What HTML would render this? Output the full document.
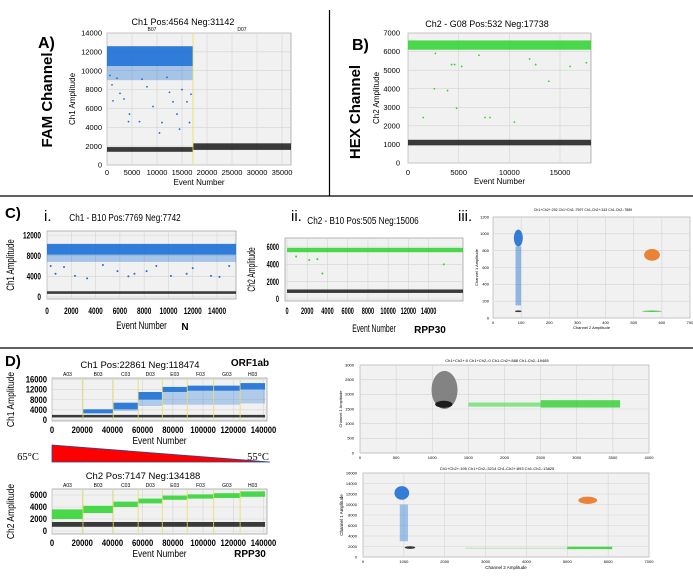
<!DOCTYPE html>
<html><head><meta charset="utf-8">
<style>
html,body{margin:0;padding:0;background:#fff;}
svg{display:block;font-family:"Liberation Sans",sans-serif;}
</style></head>
<body>
<svg id="fig" width="693" height="581" viewBox="0 0 693 581" xmlns="http://www.w3.org/2000/svg">
<line x1="0" y1="196" x2="693" y2="196" stroke="#000" stroke-width="1.2"/>
<line x1="0" y1="348" x2="693" y2="348" stroke="#000" stroke-width="1.2"/>
<line x1="329.5" y1="10" x2="329.5" y2="196" stroke="#000" stroke-width="1.2"/>
<text x="38" y="48" font-size="16" font-weight="bold">A)</text>
<text x="52" y="100" font-size="15" font-weight="bold" transform="rotate(-90 52 100)" text-anchor="middle">FAM Channel</text>
<text x="352" y="50" font-size="16" font-weight="bold">B)</text>
<text x="360" y="112" font-size="15" font-weight="bold" transform="rotate(-90 360 112)" text-anchor="middle">HEX Channel</text>
<text x="5" y="218" font-size="15" font-weight="bold">C)</text>
<text x="44" y="221" font-size="15">i.</text>
<text x="291" y="221" font-size="15">ii.</text>
<text x="458" y="221" font-size="15">iii.</text>
<text x="5" y="366" font-size="15" font-weight="bold">D)</text>
<text x="183" y="25" font-size="9" text-anchor="middle">Ch1 Pos:4564 Neg:31142</text>
<text x="487" y="27" font-size="9" text-anchor="middle">Ch2 - G08 Pos:532 Neg:17738</text>
<text x="0" y="0" font-size="10.5" text-anchor="middle" transform="translate(125 221) scale(0.78 1)">Ch1 - B10 Pos:7769 Neg:7742</text>
<text x="0" y="0" font-size="10.5" text-anchor="middle" transform="translate(363 224) scale(0.78 1)">Ch2 - B10 Pos:505 Neg:15006</text>
<text x="583" y="211" font-size="3.5" text-anchor="middle">Ch1+Ch2+:292 Ch1+Ch2-:7597 Ch1-Ch2+:343 Ch1-Ch2-:7889</text>
<text x="140" y="368" font-size="9.5" text-anchor="middle">Ch1 Pos:22861 Neg:118474</text>
<text x="143" y="479" font-size="9.5" text-anchor="middle">Ch2 Pos:7147 Neg:134188</text>
<text x="497" y="362" font-size="4" text-anchor="middle">Ch1+Ch2+:0  Ch1+Ch2-:0  Ch1-Ch2+:888  Ch1-Ch2-:19485</text>
<text x="497" y="470" font-size="4" text-anchor="middle">Ch1+Ch2+:195  Ch1+Ch2-:3214  Ch1-Ch2+:893  Ch1-Ch2-:13825</text>
<text x="138" y="162" font-size="11" font-weight="bold" text-anchor="middle">RBD2</text>
<text x="240" y="162" font-size="11" font-weight="bold" text-anchor="middle">NTC</text>
<text x="487" y="160" font-size="11" font-weight="bold" text-anchor="middle">RPP30</text>
<text x="185" y="330" font-size="10" font-weight="bold" text-anchor="middle">N</text>
<text x="430" y="333" font-size="10" font-weight="bold" text-anchor="middle">RPP30</text>
<text x="500" y="245" font-size="10" font-weight="bold" text-anchor="middle">N</text>
<text x="646" y="237" font-size="10" font-weight="bold" text-anchor="middle">N+RPP30</text>
<text x="636" y="317" font-size="10" font-weight="bold" text-anchor="middle">RPP30</text>
<text x="250" y="366" font-size="10" font-weight="bold" text-anchor="middle">ORF1ab</text>
<text x="250" y="557" font-size="10" font-weight="bold" text-anchor="middle">RPP30</text>
<text x="482" y="427" font-size="11" font-family="Liberation Serif,serif" font-weight="bold" text-anchor="middle">65°C</text>
<text x="482" y="524" font-size="11" font-family="Liberation Serif,serif" font-weight="bold" text-anchor="middle">57°C</text>
<polygon points="52,445 270,462 52,462" fill="#ff0000" stroke="#2a4a8a" stroke-width="0.8"/>
<text x="28" y="460" font-size="10.5" font-family="Liberation Serif,serif" text-anchor="middle">65°C</text>
<text x="258" y="460" font-size="10.5" font-family="Liberation Serif,serif" text-anchor="middle">55°C</text>
<g id="plots"></g>
</svg>
<script>
// ---------- DATA ----------
const aSegments = [0, 17200, 36800];
const aPosBand = [[0, 17200, 10500, 12600]];
const aPosFringe = [[0, 17200, 9000, 10500]];
const aNegBand = [[0, 17200, 1400, 1900], [17200, 36800, 1600, 2300]];
const aOutliers = [[600,9500],[1000,8500],[1200,6800],[2000,9200],[2600,7600],[3400,7000],[4300,4600],[4500,5400],[6500,4600],[7000,9100],[8000,8300],[9200,6200],[10500,3400],[11000,4500],[12000,9300],[12500,7700],[13200,6700],[14000,5400],[14500,3800],[15000,8000],[16000,6700],[16500,4500],[16800,7500]];
const bPosBand = [[0, 18060, 6100, 6600]];
const bNegBand = [[0, 18060, 950, 1250]];
const bOutliers = [[1500,2450],[2600,4000],[3900,3900],[4800,2950],[4600,5300],[5300,5200],[4300,5300],[7600,2450],[8100,2450],[10500,2200],[12000,5600],[12600,5300],[13900,4400],[16000,5200],[17600,5400],[2700,5900],[7000,5800]];
const ciPosBand = [[0, 15560, 8200, 10300]];
const ciPosFringe = [[0, 15560, 6800, 8200]];
const ciNegBand = [[0, 15560, 600, 1100]];
const ciOutliers = [[300,6000],[700,4500],[1400,5800],[2300,4100],[3300,3600],[4600,6200],[5800,5000],[6700,4000],[7200,4500],[8200,5000],[9000,6000],[10200,4100],[11500,4500],[12000,5600],[13500,4100],[14200,3900],[15000,6000]];
const ciiPosBand = [[0, 17400, 5400, 5900]];
const ciiNegBand = [[0, 17400, 700, 1100]];
const ciiOutliers = [[900,4900],[2200,4500],[3000,4600],[3500,2950],[15500,4000]];
const ciiiClusters = [[90,950,16,100,'#1f6fd1'],[565,750,28,70,'#e87722'],[565,80,35,9,'#33cc33'],[90,80,12,10,'#222']];
const ciiiTail = [[80,100,150,850,'#1f6fd1']];
const dRegions = ['A03','B03','C03','D03','E03','F03','G03','H03'];
const dBounds = [0,20500,40500,57000,73000,89500,107000,124500,141000];
const dCh1Lo = [null,2600,4200,8000,11000,11500,11500,12000];
const dCh1Hi = [null,4200,6800,11000,13000,13500,13500,14500];
const dCh1FringeLo = [null,null,3500,5500,6000,6000,6000,6500];
const dCh2Lo = [2000,3000,4000,4600,5200,5400,5500,5700];
const dCh2Hi = [3600,4200,4900,5400,5900,6100,6300,6600];
const d65Clusters = [[1170,2150,180,650,'#777'],[1160,1660,120,120,'#111']];
const d65Band = [[2500,3600,1550,1800,'#22cc22'],[1500,2500,1580,1720,'#66dd66']];
const d57Clusters = [[950,12200,180,1300,'#1f6fd1'],[1150,1800,130,250,'#222'],[5500,10800,230,700,'#e87722']];
const d57Tail = [[900,1100,3000,10000,'#4a8fe0']];
const d57Band = [[5000,6100,1500,1950,'#22cc22'],[2500,5000,1600,1750,'#99dd99']];

// ---------- DRAWING ----------
const NS='http://www.w3.org/2000/svg';
const root=document.getElementById('plots');
function el(tag,attrs,parent){const e=document.createElementNS(NS,tag);for(const k in attrs)e.setAttribute(k,attrs[k]);(parent||root).appendChild(e);return e;}
function txt(x,y,s,fs,anchor,parent,extra,sq,rot){
  const a=Object.assign({'font-size':fs,'text-anchor':anchor||'middle'},extra||{});
  let tr='translate('+x+' '+y+')';
  if(rot)tr+=' rotate(-90)';
  if(sq&&sq!==1)tr+=' scale('+sq+' 1)';
  a.x=0;a.y=0;a.transform=tr;
  const t=el('text',a,parent);t.textContent=s;return t;}

function makePlot(name,o){
  const g=el('g',{});
  
  
  const sq=o.sq||1;
  const sx=v=>o.x+(v-o.xmin)/(o.xmax-o.xmin)*o.w;
  const sy=v=>o.y+o.h-(v-o.ymin)/(o.ymax-o.ymin)*o.h;
  const bg=el('rect',{x:o.x,y:o.y,width:o.w,height:o.h,fill:o.bg||'#f1f1f1',stroke:'#888','stroke-width':0.6},g);
  
  
  o.xticks.forEach(v=>{
    el('line',{x1:sx(v),x2:sx(v),y1:o.y,y2:o.y+o.h,stroke:'#d4d4d4','stroke-width':0.6},g);
    const t=txt(sx(v),o.y+o.h+o.xlo,String(v),o.tfs,'middle',g,o.tickExtra,sq);
    
    
  });
  o.yticks.forEach(v=>{
    el('line',{x1:o.x,x2:o.x+o.w,y1:sy(v),y2:sy(v),stroke:'#d4d4d4','stroke-width':0.6},g);
    const t=txt(o.x-o.ylo,sy(v)+o.tfs*0.35,String(v),o.tfs,'end',g,o.tickExtra,sq);
    
    
  });
  if(o.xlabel){const t=txt(o.x+o.w/2,o.y+o.h+o.xlabOff,o.xlabel,o.lfs,'middle',g,o.labExtra,sq);
    
    }
  if(o.ylabel){const t=txt(o.x-o.ylabOff,o.y+o.h/2,o.ylabel,o.lfs,'middle',g,o.labExtra,sq,true);
    
    }
  const clip='clip-'+name;
  const cp=el('clipPath',{id:clip},g);el('rect',{x:o.x,y:o.y,width:o.w,height:o.h},cp);
  const data=el('g',{'clip-path':'url(#'+clip+')'},g);
  return {g,sx,sy,data};
}
function bands(p,arr,color,op,name){
  arr.forEach(b=>{
    const r=el('rect',{x:p.sx(b[0]),width:p.sx(b[1])-p.sx(b[0]),y:p.sy(b[3]),height:p.sy(b[2])-p.sy(b[3]),fill:color,opacity:op},p.data);
    
    
  });
}
function points(p,arr,color,name,r){
  arr.forEach(d=>{
    const c=el('circle',{cx:p.sx(d[0]),cy:p.sy(d[1]),r:r||0.9,fill:color},p.data);
    
    
  });
}
function clusters(p,arr,name){
  arr.forEach(c=>{
    const e=el('ellipse',{cx:p.sx(c[0]),cy:p.sy(c[1]),rx:Math.abs(p.sx(c[0]+c[2])-p.sx(c[0])),ry:Math.abs(p.sy(c[1]+c[3])-p.sy(c[1])),fill:c[4],opacity:0.9},p.data);
    
    
  });
}
function rects2d(p,arr,op,name){
  arr.forEach(b=>{
    const r=el('rect',{x:p.sx(b[0]),width:p.sx(b[1])-p.sx(b[0]),y:p.sy(b[3]),height:p.sy(b[2])-p.sy(b[3]),fill:b[4],opacity:op},p.data);
    
    
  });
}
function range(a,b,s){const r=[];for(let v=a;v<=b;v+=s)r.push(v);return r;}
const BLUE='#1a6fd6',GREEN='#2bd42b',BLACK='#1a1a1a';

(function(){
  const p=makePlot('plot-a',{x:107,y:33,w:184,h:132,xmin:0,xmax:36800,ymin:0,ymax:14000,xticks:range(0,35000,5000),yticks:range(0,14000,2000),tfs:7.5,xlo:10,ylo:5,xlabel:'Event Number',ylabel:'Ch1 Amplitude',lfs:8,xlabOff:20,ylabOff:32});
  bands(p,aPosFringe,BLUE,0.35,'positive-droplets-fringe');
  bands(p,aPosBand,BLUE,0.9,'positive-droplets');
  bands(p,aNegBand,BLACK,0.85,'negative-droplets');
  points(p,aOutliers,BLUE,'outlier-droplet');
  el('line',{x1:p.sx(aSegments[1]),x2:p.sx(aSegments[1]),y1:33,y2:165,stroke:'#e8e060','stroke-width':0.8},p.data);
  txt(152,31,'B07',5,'middle',p.g);txt(242,31,'D07',5,'middle',p.g);
})();
(function(){
  const p=makePlot('plot-b',{x:408,y:33,w:183,h:130,xmin:0,xmax:18060,ymin:0,ymax:7000,xticks:[0,5000,10000,15000],yticks:range(0,7000,1000),tfs:7.5,xlo:12,ylo:8,xlabel:'Event Number',ylabel:'Ch2 Amplitude',lfs:8,xlabOff:21,ylabOff:29});
  bands(p,bPosBand,GREEN,0.85,'positive-droplets');
  bands(p,bNegBand,BLACK,0.85,'negative-droplets');
  points(p,bOutliers,GREEN,'outlier-droplet');
})();
(function(){
  const p=makePlot('plot-c-i',{x:47,y:231,w:189,h:68,xmin:0,xmax:15560,ymin:-400,ymax:12800,xticks:range(0,14000,2000),yticks:[0,4000,8000,12000],tfs:9,sq:0.72,xlo:15,ylo:6,xlabel:'Event Number',ylabel:'Ch1  Amplitude',lfs:11,xlabOff:30,ylabOff:33,tickExtra:{'font-weight':'bold'}});
  bands(p,ciPosFringe,BLUE,0.35,'positive-droplets-fringe');
  bands(p,ciPosBand,BLUE,0.9,'positive-droplets');
  bands(p,ciNegBand,BLACK,0.85,'negative-droplets');
  points(p,ciOutliers,BLUE,'outlier-droplet',1);
})();
(function(){
  const p=makePlot('plot-c-ii',{x:285,y:238,w:178,h:63,xmin:-200,xmax:17400,ymin:-230,ymax:7040,xticks:range(0,14000,2000),yticks:[0,2000,4000,6000],tfs:9,sq:0.62,xlo:13,ylo:6,xlabel:'Event Number',ylabel:'Ch2  Amplitude',lfs:11,xlabOff:31,ylabOff:30,tickExtra:{'font-weight':'bold'}});
  bands(p,ciiPosBand,GREEN,0.85,'positive-droplets');
  bands(p,ciiNegBand,BLACK,0.85,'negative-droplets');
  points(p,ciiOutliers,GREEN,'outlier-droplet',1);
})();
(function(){
  const p=makePlot('plot-c-iii',{x:493,y:217,w:197,h:101,xmin:0,xmax:700,ymin:0,ymax:1200,xticks:range(0,700,100),yticks:range(0,1200,200),tfs:4,xlo:6,ylo:4,xlabel:'Channel 2 Amplitude',ylabel:'Channel 1 Amplitude',lfs:4,xlabOff:11,ylabOff:15});
  rects2d(p,ciiiTail,0.45,'n-tail');
  clusters(p,ciiiClusters,'droplet-cluster');
})();
(function(){
  const p=makePlot('plot-d-ch1',{x:52,y:378,w:215,h:43,xmin:0,xmax:142300,ymin:-400,ymax:16500,xticks:range(0,140000,20000),yticks:[0,4000,8000,12000,16000],tfs:9,sq:0.85,xlo:12,ylo:5,xlabel:'Event Number',ylabel:'Ch1  Amplitude',lfs:10,xlabOff:23,ylabOff:38,tickExtra:{'font-weight':'bold'}});
  dRegions.forEach((r,i)=>{
    const a=dBounds[i],b=dBounds[i+1];
    if(dCh1FringeLo[i]!==null)bands(p,[[a,b,dCh1FringeLo[i],dCh1Lo[i]]],BLUE,0.3,'positive-fringe-'+r);
    if(dCh1Lo[i]!==null)bands(p,[[a,b,dCh1Lo[i],dCh1Hi[i]]],BLUE,0.9,'positive-droplets-'+r);
    bands(p,[[a,b,1000,2000]],BLACK,0.85,'negative-droplets-'+r);
    if(i>0)el('line',{x1:p.sx(a),x2:p.sx(a),y1:378,y2:421,stroke:'#e8e060','stroke-width':0.8},p.data);
    txt(p.sx((a+b)/2),376,r,5,'middle',p.g);
  });
})();
(function(){
  const p=makePlot('plot-d-ch2',{x:52,y:489,w:215,h:45,xmin:0,xmax:142300,ymin:-500,ymax:7000,xticks:range(0,140000,20000),yticks:[0,2000,4000,6000],tfs:9,sq:0.85,xlo:12,ylo:5,xlabel:'Event Number',ylabel:'Ch2  Amplitude',lfs:10,xlabOff:23,ylabOff:38,tickExtra:{'font-weight':'bold'}});
  dRegions.forEach((r,i)=>{
    const a=dBounds[i],b=dBounds[i+1];
    bands(p,[[a,b,dCh2Lo[i],dCh2Hi[i]]],GREEN,0.85,'positive-droplets-'+r);
    bands(p,[[a,b,700,1500]],BLACK,0.85,'negative-droplets-'+r);
    if(i>0)el('line',{x1:p.sx(a),x2:p.sx(a),y1:489,y2:534,stroke:'#e8e060','stroke-width':0.8},p.data);
    txt(p.sx((a+b)/2),487,r,5,'middle',p.g);
  });
})();
(function(){
  const p=makePlot('plot-d-65c',{x:360,y:365,w:289,h:88,xmin:0,xmax:4000,ymin:0,ymax:3000,xticks:range(0,4000,500),yticks:range(0,3000,500),tfs:4,xlo:6,ylo:6,ylabel:'Channel 1 Amplitude',lfs:4,ylabOff:18});
  rects2d(p,d65Band,0.75,'rpp30-droplets');
  clusters(p,d65Clusters,'negative-cluster');
})();
(function(){
  const p=makePlot('plot-d-57c',{x:363,y:473,w:286,h:84,xmin:0,xmax:7000,ymin:0,ymax:16000,xticks:range(0,7000,1000),yticks:range(0,16000,2000),tfs:4,xlo:6,ylo:6,xlabel:'Channel 2 Amplitude',ylabel:'Channel 1 Amplitude',lfs:4.5,xlabOff:12,ylabOff:20});
  rects2d(p,d57Band,0.8,'rpp30-droplets');
  rects2d(p,d57Tail,0.5,'orf1ab-tail');
  clusters(p,d57Clusters,'droplet-cluster');
})();
</script>
</body></html>
